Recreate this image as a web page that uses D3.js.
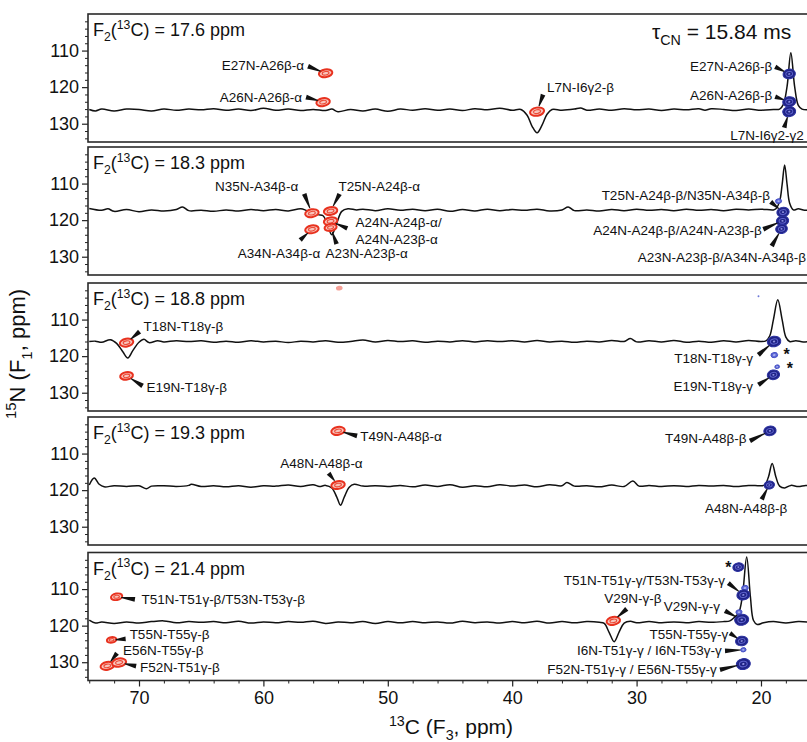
<!DOCTYPE html>
<html>
<head>
<meta charset="utf-8">
<script src="https://cdn.jsdelivr.net/npm/d3@7"></script>
<style>
  body { margin: 0; background: #fff; }
  svg text { font-family: "Liberation Sans", Arial, Helvetica, sans-serif; fill: #111; }
</style>
</head>
<body>
<div id="chart"></div>
<script>
// ---- data (13C ppm, 15N ppm, intensity) ----
var slicePpm = [17.6, 18.3, 18.8, 19.3, 21.4];
var baselines = [126.2, 117.3, 116.0, 118.9, 119.1];
var xTicks = [70, 60, 50, 40, 30, 20];
var yTicks = [110, 120, 130];

// 1D traces: [13C ppm, intensity] (positive up)
var trace1 = [[74,0.1],[73.5,-0.3],[73,0.2],[72,-0.3],[71,0.2],[70,0.1],[69,-0.3],[68,0.2],[67,-0.1],[66,0.2],[65,0],[64,0.3],[63,-0.1],[62,0.2],[61,-0.2],[60,0.4],[59,-0.1],[58,0.2],[57,-0.2],[56,0.1],[55,-0.2],[54.5,0.2],[54,-0.5],[53,0.1],[52,-0.3],[51,0.2],[50,-0.4],[49,0.2],[48,-0.1],[47,0.3],[46,-0.1],[45,0.2],[44,-0.2],[43,0.3],[42,0],[41,0.4],[40,-0.1],[39.3,0.1],[38.8,-1.5],[38.4,-4.5],[38,-6.3],[37.6,-4.2],[37.2,-1.2],[36.8,0.1],[36,-0.1],[35,0.2],[34.5,0.5],[34,-0.1],[33,0.2],[32,-0.1],[31,0.3],[30,0],[29,0.2],[28,-0.2],[27,0.2],[26,0],[25,0.3],[24.5,-0.1],[24,0.3],[23,0.1],[22,-0.2],[21,0.2],[20,-0.1],[19,0.1],[18.5,0.2],[18.2,1.5],[17.9,6.5],[17.6,15.6],[17.3,6.5],[17.0,1.2],[16.7,0.2],[16.3,0],[16,0.1]];
var trace2 = [[74,0.5],[73,0],[72.5,0.4],[72,-0.3],[71,0.2],[70,-0.4],[69,0.1],[68,-0.2],[67,0.2],[66.5,0.9],[66,-0.1],[65,0],[64,-0.3],[63,0.1],[62,-0.2],[61,0.2],[60,-0.1],[59,0.2],[58,-0.2],[57,0.4],[56.5,-0.1],[56,-0.6],[55.6,-1.2],[55.2,-1.5],[54.9,-3.5],[54.5,-6.7],[54.1,-3.5],[53.7,-0.3],[53.2,0.4],[52.5,0.1],[52,0.3],[51,-0.1],[50,0.4],[49,0],[48,0.3],[47,-0.1],[46,0.3],[45,-0.3],[44,0.2],[43,-0.2],[42,0.3],[41,-0.1],[40,0.2],[39,0],[38,0.3],[37,-0.2],[36,0.1],[35.5,0.9],[35,-0.1],[34,0.1],[33,-0.2],[32,0.2],[31,-0.1],[30,0.3],[29,0],[28,0.2],[27,-0.1],[26,0.3],[25,0],[24,0.2],[23,-0.1],[22,0.3],[21,0.1],[20,0.3],[19,0.1],[18.8,0.4],[18.5,2.5],[18.3,7],[18.1,12.4],[17.9,7],[17.7,2],[17.4,0.1],[17,0.4],[16.5,0],[16,0.2]];
var trace3 = [[74,0],[73.5,0.1],[73,-0.2],[72.3,0.5],[71.8,-0.5],[71.3,-2.8],[70.9,-4.5],[70.5,-2.5],[70,-0.2],[69.6,0.6],[69.2,-0.3],[68.5,0.2],[68,-0.1],[67,0.2],[66,0],[65,0.2],[64,-0.2],[63,0.1],[62,-0.2],[61,0.2],[60,-0.1],[59,0.1],[58,-0.3],[57,0.1],[56,-0.1],[55,0.2],[54,-0.2],[53,0],[52,0.4],[51,-0.1],[50,0.3],[49,0],[48,0.2],[47,-0.2],[46,0.1],[45,-0.1],[44,0.2],[43,-0.1],[42,0.2],[41,0],[40,0.2],[39,-0.1],[38,0.3],[37,-0.1],[36,0.1],[35,-0.2],[34,0.1],[33,-0.1],[32,0.3],[31,0],[30.5,0.8],[30,-0.1],[29,0.2],[28,-0.1],[27,0.3],[26,-0.2],[25,0.1],[24,-0.2],[23,0.2],[22,-0.1],[21,0.3],[20,0],[19.6,0.2],[19.3,1.5],[19.0,6],[18.65,11.4],[18.3,6],[18.0,1.2],[17.7,0],[17.2,0.2],[16.6,-0.1],[16,0.1]];
var trace4 = [[74,0.3],[73.6,2.2],[73.2,0.5],[72.8,-0.2],[72,0.1],[71,-0.1],[70,0.1],[69.4,-0.7],[69,0],[68,0.1],[67,-0.1],[66,0.2],[65.8,0.5],[65,-0.1],[64,0.1],[63,-0.2],[62,0.1],[61,-0.3],[60,0.1],[59,0],[58,0.3],[57,-0.1],[56,0.4],[55.5,-0.1],[55,0.2],[54.5,-0.5],[54.1,-3],[53.8,-5.2],[53.5,-3],[53.1,-0.3],[52.7,0.5],[52,0],[51,0.1],[50,-0.1],[49,0.2],[48,-0.2],[47,0.3],[46,-0.1],[45,0.4],[44,-0.3],[43,0.1],[42,-0.2],[41,0.4],[40,0],[39,0.3],[38,-0.2],[37,0.4],[36,0.1],[35.6,1.0],[35,0],[34,0.1],[33,-0.2],[32,0.3],[31,-0.1],[30.3,1.4],[29.8,0],[29,0.2],[28,-0.1],[27,0.1],[26,-0.1],[25,0.2],[24,0],[23,0.2],[22,-0.1],[21,0.2],[20,0.1],[19.7,0.3],[19.4,2.5],[19.1,6.2],[18.8,2.5],[18.5,0],[18.1,-0.5],[17.6,0.2],[17,-0.1],[16.4,0.2],[16,0]];
var trace5 = [[74,0.6],[73.5,-0.2],[73,0.1],[72,-0.3],[71,0.1],[70,-0.2],[69,0.2],[68,0.4],[67,-0.1],[66,0.2],[65,0],[64,0.2],[63,-0.1],[62,0.3],[61,-0.2],[60,0.1],[59,-0.1],[58,0.2],[57,0],[56,0.3],[55,-0.3],[54,0.1],[53,-0.1],[52,0.2],[51,-0.3],[50,0.2],[49,-0.1],[48,0.2],[47,-0.1],[46,0.1],[45,-0.2],[44,0.3],[43,-0.1],[42,0.1],[41,-0.2],[40,0.2],[39,-0.1],[38,0.3],[37,-0.2],[36,0.2],[35,-0.1],[34,0.2],[33,0],[32.6,-0.3],[32.2,-2.8],[31.8,-5.3],[31.4,-2.6],[31,-0.2],[30.5,0.3],[30,-0.1],[29,0.2],[28,-0.1],[27,0.1],[26,-0.1],[25,0.2],[24,0],[23,0.2],[22.5,0.4],[22.1,1.5],[21.8,2.5],[21.5,7],[21.15,17.9],[20.85,7],[20.6,0.5],[20.3,-0.6],[19.8,-0.1],[19,0.2],[18,-0.2],[17,0.2],[16,0]];

// cross peaks: [13C ppm, 15N ppm, intensity]  (negative = red, positive = blue)
var peaks1 = [[55.0,116.2,-1],[55.2,124.1,-1],[38.0,126.7,-1.1],[17.73,116.4,1],[17.73,124.0,1.1],[17.73,126.7,1.1]];
var peaks2 = [[56.1,118.1,-1],[54.6,117.5,-1],[54.6,120.3,-1],[56.1,122.5,-1],[54.6,122.0,-0.8],[18.59,114.8,0.25],[18.23,117.8,1],[18.27,120.2,1],[18.35,122.4,0.9]];
var peaks3 = [[71.0,116.3,-1],[71.0,125.4,-0.9],[53.9,101.4,-0.12],[20.2,103.6,0.04],[18.95,116.0,1.2],[18.93,119.7,0.3],[18.7,122.9,0.15],[19.0,125.1,1]];
var peaks4 = [[54.0,103.8,-1],[54.0,118.6,-1],[19.28,103.8,1],[19.33,118.6,0.7]];
var peaks5 = [[71.8,112.1,-0.7],[72.2,123.9,-0.5],[72.55,131.0,-1],[71.6,130.1,-1.1],[31.87,118.7,-1],[21.82,104.0,0.8],[21.29,109.7,0.3],[21.42,111.6,1.1],[21.77,116.3,0.25],[21.55,118.4,1.3],[21.55,124.2,1],[21.42,126.6,0.2],[21.42,130.5,1.3]];

// assignments: [text, peak index]
var names1 = [["E27N-A26β-α",0],["A26N-A26β-α",1],["L7N-I6γ2-β",2],["E27N-A26β-β",3],["A26N-A26β-β",4],["L7N-I6γ2-γ2",5]];
var names2 = [["N35N-A34β-α",0],["T25N-A24β-α",1],[["A24N-A24β-α/","A24N-A23β-α"],2],["A34N-A34β-α",3],["A23N-A23β-α",4],["T25N-A24β-β/N35N-A34β-β",6],["A24N-A24β-β/A24N-A23β-β",7],["A23N-A23β-β/A34N-A34β-β",8]];
var names3 = [["T18N-T18γ-β",0],["E19N-T18γ-β",1],["T18N-T18γ-γ",4],["E19N-T18γ-γ",7],["*",5],["*",6]];
var names4 = [["T49N-A48β-α",0],["A48N-A48β-α",1],["T49N-A48β-β",2],["A48N-A48β-β",3]];
var names5 = [["T51N-T51γ-β/T53N-T53γ-β",0],["T55N-T55γ-β",1],["E56N-T55γ-β",2],["F52N-T51γ-β",3],["V29N-γ-β",4],["T51N-T51γ-γ/T53N-T53γ-γ",7],["V29N-γ-γ",9],["T55N-T55γ-γ",10],["I6N-T51γ-γ / I6N-T53γ-γ",11],["F52N-T51γ-γ / E56N-T55γ-γ",12],["*",5]];

// ---- label placement (px offsets from the peak): text dx,dy,anchor ; arrow start ax,ay ----
var place1 = [[-21.5,-8,"end",-17.5,-7],[-21,-5,"end",-17,-5],[10,-24,"start",6,-17],[-17,-8,"end",-14,-7],[-17,-6,"end",-14,-5],[-59,24,"start",-5,16]];
var place2 = [[-13.7,-26.6,"end",-7.7,-19.3],[8,-24.3,"start",9,-17],[25,1.5,"start",16.7,7.1],[8.3,24,"end",-11.7,10.7],[-5,25.8,"start",6,16.5],[-13,-16.9,"end",-12.3,-10.2],[-20.8,9.1,"end",-19.2,8.4],[24.5,28.4,"end",-9.8,17.1]];
var place3 = [[17,-16,"start",13,-11],[20,11.3,"start",16,10],[-21,16.6,"end",-15.7,13.3],[-20.3,11.7,"end",-15,10],[12.4,-3.3,"star"],[12.7,-0.7,"star"]];
var place4 = [[22.3,5.7,"start",19,5],[-57.7,-21.7,"start",-9.4,-11.7],[-23.3,7.3,"end",-20,10],[-64.3,23.3,"start",-7.6,14.3]];
var place5 = [[25,2.6,"start",18.3,2.6],[18,-5.7,"start",14,-1],[15.7,-16,"start",9.7,-12.7],[21,4.2,"start",17,3.5],[-9,-22.7,"start",13.4,-12],[-18.3,-15,"end",-15,-11.7],[-21.7,-14,"end",-16.7,-9],[-13.4,-7,"end",-11.7,-7.7],[-21.6,0,"end",-18.3,1],[-26.6,5.7,"end",-23.3,5.7],[-10,-2,"star"]];

var panels = [
  { f2: slicePpm[0], base: baselines[0], trace: trace1, peaks: peaks1, names: names1, place: place1 },
  { f2: slicePpm[1], base: baselines[1], trace: trace2, peaks: peaks2, names: names2, place: place2 },
  { f2: slicePpm[2], base: baselines[2], trace: trace3, peaks: peaks3, names: names3, place: place3 },
  { f2: slicePpm[3], base: baselines[3], trace: trace4, peaks: peaks4, names: names4, place: place4 },
  { f2: slicePpm[4], base: baselines[4], trace: trace5, peaks: peaks5, names: names5, place: place5 }
];

var W = 807, H = 742;
var left = 88, right = 810;
var panelTop = [14, 147, 283, 417, 552.5], panelH = 128;

var svg = d3.select("#chart").append("svg").attr("width", W).attr("height", H);

var x = d3.scaleLinear().domain([74.1, 16.06]).range([left, right]);

// rich text with sub/superscripts: parts = [[text, 0|1|2]]
function rich(t, parts, fs) {
  var shift = 0;
  parts.forEach(function (p) {
    var target = p[1] === 1 ? fs * 0.3 : (p[1] === 2 ? -fs * 0.4 : 0);
    t.append("tspan")
      .attr("dy", target - shift)
      .style("font-size", p[1] ? (fs * 0.68) + "px" : null)
      .text(p[0]);
    shift = target;
  });
}

function wedge(sx, sy, ex, ey) {
  var dx = ex - sx, dy = ey - sy, len = Math.sqrt(dx * dx + dy * dy);
  var nx = -dy / len, ny = dx / len, w1 = 2.4, w2 = 0.5;
  return [[sx + nx * w1, sy + ny * w1], [ex + nx * w2, ey + ny * w2],
          [ex - nx * w2, ey - ny * w2], [sx - nx * w1, sy - ny * w1]];
}

panels.forEach(function (p, i) {
  var top = panelTop[i];
  var y = d3.scaleLinear().domain([100, 135]).range([top, top + panelH]);
  var g = svg.append("g");

  svg.append("clipPath").attr("id", "clip" + i)
    .append("rect").attr("x", left).attr("y", top).attr("width", right - left).attr("height", panelH);

  // y axis
  var yMinor = d3.range(102, 135, 2).filter(function (v) { return v % 10 !== 0; });
  g.append("g").attr("transform", "translate(" + left + ",0)")
    .call(d3.axisLeft(y).tickValues(yMinor).tickSize(3).tickFormat(""))
    .call(function (a) { a.select(".domain").remove(); a.selectAll("line").attr("stroke", "#222"); });
  g.append("g").attr("transform", "translate(" + left + ",0)")
    .call(d3.axisLeft(y).tickValues(yTicks).tickSize(6).tickPadding(3))
    .call(function (a) {
      a.select(".domain").remove();
      a.selectAll("line").attr("stroke", "#222").attr("stroke-width", 1.2);
      a.selectAll("text").style("font-size", "18px").attr("fill", "#222");
    });

  // frame
  g.append("rect").attr("x", left).attr("y", top).attr("width", right - left).attr("height", panelH)
    .attr("fill", "none").attr("stroke", "#2a2a2a").attr("stroke-width", 1.6);

  var body = g.append("g").attr("clip-path", "url(#clip" + i + ")");

  // 1D trace
  body.append("path").datum(p.trace)
    .attr("fill", "none").attr("stroke", "#111").attr("stroke-width", 1.5)
    .attr("d", d3.line()
      .x(function (d) { return x(d[0]); })
      .y(function (d) { return y(p.base - d[1]); })
      .curve(d3.curveCatmullRom.alpha(0.5)));

  // cross peaks (contours)
  p.peaks.forEach(function (pk) {
    var cx = x(pk[0]), cy = y(pk[1]), I = Math.abs(pk[2]), s = Math.sqrt(I);
    var pg = body.append("g").attr("transform", "translate(" + cx + "," + cy + ") rotate(-10)");
    if (pk[2] < 0) {
      var rx = 6.8 * s, ry = 3.9 * s;
      if (I < 0.2) {
        pg.append("ellipse").attr("rx", rx + 1).attr("ry", ry + 1).attr("fill", "#f5a097");
      } else {
        pg.append("ellipse").attr("rx", rx).attr("ry", ry)
          .attr("fill", "#f8c4bc").attr("stroke", "#e8321f").attr("stroke-width", 2);
        pg.append("ellipse").attr("rx", rx * 0.5).attr("ry", ry * 0.45)
          .attr("fill", "none").attr("stroke", "#ec4a36").attr("stroke-width", 1.1);
      }
    } else {
      var bx = 6.2 * s, by = 4.8 * s;
      if (I < 0.1) {
        pg.append("ellipse").attr("rx", 1).attr("ry", 1).attr("fill", "#6d78d8");
      } else if (I < 0.35) {
        pg.append("ellipse").attr("rx", bx).attr("ry", by)
          .attr("fill", "#5f6ad6").attr("stroke", "#3c46c0").attr("stroke-width", 0.8);
        pg.append("ellipse").attr("rx", bx * 0.4).attr("ry", by * 0.4).attr("fill", "#a9b0ee");
      } else {
        pg.append("ellipse").attr("rx", bx).attr("ry", by)
          .attr("fill", "#1f2386").attr("stroke", "#2b31a0").attr("stroke-width", 1);
        pg.append("ellipse").attr("rx", bx * 0.55).attr("ry", by * 0.5)
          .attr("fill", "none").attr("stroke", "#5d62cc").attr("stroke-width", 1);
        pg.append("ellipse").attr("rx", bx * 0.18).attr("ry", by * 0.18).attr("fill", "#8c90e0");
      }
    }
  });

  // assignment labels with wedge pointers
  p.names.forEach(function (nm, k) {
    var pl = p.place[k], pk = p.peaks[nm[1]];
    var cx = x(pk[0]), cy = y(pk[1]);
    if (pl[2] === "star") {
      g.append("text").attr("x", cx + pl[0]).attr("y", cy + pl[1] + 8)
        .attr("text-anchor", "middle").style("font-size", "16px").style("font-weight", "bold").text("*");
      return;
    }
    var lines = Array.isArray(nm[0]) ? nm[0] : [nm[0]];
    lines.forEach(function (ln, j) {
      g.append("text").attr("x", cx + pl[0]).attr("y", cy + pl[1] + j * 16.6)
        .attr("dy", "0.35em").attr("text-anchor", pl[2])
        .style("font-size", "13.5px").text(ln);
    });
    var sx = cx + pl[3], sy = cy + pl[4];
    var dx = cx - sx, dy = cy - sy, len = Math.sqrt(dx * dx + dy * dy);
    var r = Math.max(3, 5.5 * Math.sqrt(Math.abs(pk[2])));
    var ex = cx - dx / len * r, ey = cy - dy / len * r;
    g.append("polygon").attr("points", wedge(sx, sy, ex, ey).join(" ")).attr("fill", "#111");
  });

  // slice label
  var t = g.append("text").attr("x", 93).attr("y", top + 22).style("font-size", "18px");
  rich(t, [["F", 0], ["2", 1], ["(", 0], ["13", 2], ["C) = " + p.f2 + " ppm", 0]], 18);
});

// tau label
var tau = svg.append("text").attr("x", 652).attr("y", 39).style("font-size", "21px");
rich(tau, [["τ", 0], ["CN", 1], [" = 15.84 ms", 0]], 21);

// x axis (bottom panel)
var bottom = panelTop[4] + panelH;
var xMinor = d3.range(18, 75, 2).filter(function (v) { return v % 10 !== 0; });
svg.append("g").attr("transform", "translate(0," + bottom + ")")
  .call(d3.axisBottom(x).tickValues(xMinor).tickSize(3).tickFormat(""))
  .call(function (a) { a.select(".domain").remove(); a.selectAll("line").attr("stroke", "#222"); });
svg.append("g").attr("transform", "translate(0," + bottom + ")")
  .call(d3.axisBottom(x).tickValues(xTicks).tickSize(6).tickPadding(5))
  .call(function (a) {
    a.select(".domain").remove();
    a.selectAll("line").attr("stroke", "#222").attr("stroke-width", 1.2);
    a.selectAll("text").style("font-size", "18px").attr("fill", "#222");
  });

// axis titles
var xt = svg.append("text").attr("x", 451).attr("y", 734).attr("text-anchor", "middle").style("font-size", "21px");
rich(xt, [["13", 2], ["C (F", 0], ["3", 1], [", ppm)", 0]], 21);

var yt = svg.append("text").attr("transform", "translate(25,354) rotate(-90)")
  .attr("text-anchor", "middle").style("font-size", "22px");
rich(yt, [["15", 2], ["N (F", 0], ["1", 1], [", ppm)", 0]], 22);
</script>
</body>
</html>
